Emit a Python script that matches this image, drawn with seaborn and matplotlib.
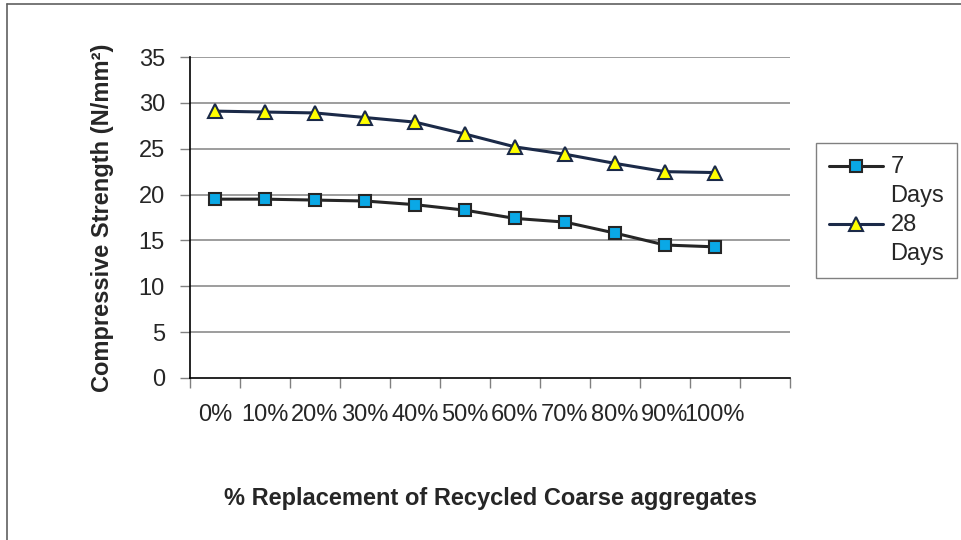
import numpy as np
import pandas as pd
import matplotlib
matplotlib.use('Agg')
import matplotlib.pyplot as plt
import seaborn as sns
from matplotlib.lines import Line2D

# values
replacement = ['0%', '10%', '20%', '30%', '40%', '50%', '60%', '70%', '80%', '90%', '100%']
days_7 = [19.5, 19.5, 19.4, 19.3, 18.9, 18.3, 17.4, 17.0, 15.8, 14.5, 14.3]
days_28 = [29.1, 29.0, 28.9, 28.4, 27.9, 26.6, 25.2, 24.4, 23.4, 22.5, 22.4]
y_ticks = [0, 5, 10, 15, 20, 25, 30, 35]

sns.set_style('white')
plt.rcParams['font.family'] = ['Liberation Sans', 'DejaVu Sans']

df = pd.DataFrame({'replacement': replacement * 2,
                   'strength': days_7 + days_28,
                   'age': ['7\nDays'] * len(days_7) + ['28\nDays'] * len(days_28)})
df['pos'] = df['replacement'].map({r: i for i, r in enumerate(replacement)})

fig = plt.figure(figsize=(9.61, 5.40), dpi=100)
ax = fig.add_axes([190 / 961, 1 - 378 / 540, 600 / 961, 321 / 540])

# chart area border (left and top only, as in the reference)
fig.add_artist(Line2D([7 / 961, 7 / 961], [0, 1 - 4 / 540], color='#606060', lw=1.2, transform=fig.transFigure))
fig.add_artist(Line2D([7 / 961, 1], [1 - 4 / 540, 1 - 4 / 540], color='#606060', lw=1.2, transform=fig.transFigure))

styles = {'7\nDays': dict(line='#262626', face='#0AA8E6', edge='#262626', marker='s', ms=9),
          '28\nDays': dict(line='#1B2A48', face='#FFFF00', edge='#1B2A48', marker='^', ms=10)}

for age, st in styles.items():
    sub = df[df['age'] == age]
    sns.lineplot(data=sub, x='pos', y='strength', ax=ax, color=st['line'], lw=2.2,
                 marker=st['marker'], markersize=st['ms'], markerfacecolor=st['face'],
                 markeredgecolor=st['edge'], markeredgewidth=1.5, label=age)

ax.set_xlim(-0.5, 11.5)
ax.set_ylim(0, 35)
ax.set_yticks(y_ticks)
ax.set_yticklabels([str(v) for v in y_ticks], fontsize=17)
ax.set_xticks(range(len(replacement)))
ax.set_xticklabels(replacement, fontsize=17)
ax.set_xticks(np.arange(-0.5, 12, 1), minor=True)
ax.tick_params(axis='x', which='major', length=0, pad=19)
ax.tick_params(axis='x', which='minor', length=7, color='#808080', width=1, direction='out', bottom=True)
ax.tick_params(axis='y', length=7, color='#808080', width=1, direction='out', left=True, pad=11)

for v in y_ticks[1:]:
    ax.axhline(v, color='#8C8C8C', lw=1.2, zorder=0)

for s in ['top', 'right']:
    ax.spines[s].set_visible(False)
ax.spines['left'].set_color('black')
ax.spines['bottom'].set_color('black')
ax.spines['left'].set_linewidth(1.2)
ax.spines['bottom'].set_linewidth(1.2)

ax.set_ylabel('Compressive Strength (N/mm²)', fontsize=17, fontweight='bold', labelpad=18)
ax.set_xlabel('% Replacement of Recycled Coarse aggregates', fontsize=17, fontweight='bold', labelpad=44)

line_step = 1.4
leg = ax.legend(loc='upper left', bbox_to_anchor=(816 / 961, 1 - 143 / 540), bbox_transform=fig.transFigure,
                frameon=True, fancybox=False, handlelength=2.3, handletextpad=0.3,
                borderpad=0.55, labelspacing=0.3, borderaxespad=0,
                prop={'size': 17, 'family': ['Liberation Sans']})
leg.get_frame().set_edgecolor('#606060')
leg.get_frame().set_linewidth(1)
for t in leg.get_texts():
    t.set_linespacing(line_step)
# lift each handle from the middle of its two-line label up to the first line
shift = 0.5 * 17 * 0.8 * line_step + 2
for h in leg.legend_handles:
    h.set_ydata(np.asarray(h.get_ydata()) + shift)

fig.savefig('out.png', dpi=100)
